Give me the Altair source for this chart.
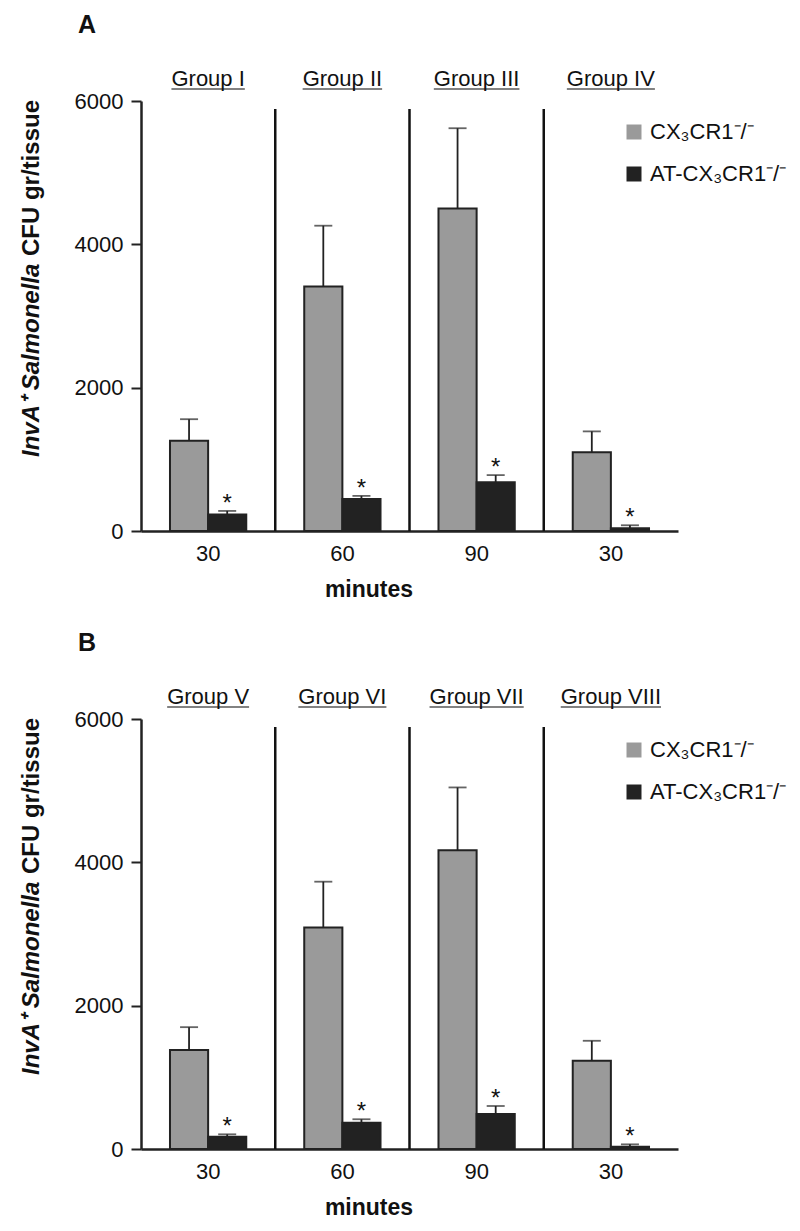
import altair as alt
import pandas as pd

FONT = "Liberation Sans"

# ---- data ----
series = ["CX₃CR1⁻/⁻", "AT-CX₃CR1⁻/⁻"]
bar_colors = ["#9a9a9a", "#222222"]

groups_a = ["Group I", "Group II", "Group III", "Group IV"]
minutes_a = ["30", "60", "90", "30"]
cx_a = [1260, 3410, 4500, 1100]
cx_err_a = [300, 850, 1120, 290]
at_a = [230, 445, 680, 40]
at_err_a = [50, 45, 100, 40]

groups_b = ["Group V", "Group VI", "Group VII", "Group VIII"]
minutes_b = ["30", "60", "90", "30"]
cx_b = [1380, 3090, 4170, 1230]
cx_err_b = [320, 640, 875, 280]
at_b = [170, 365, 490, 30]
at_err_b = [35, 50, 110, 35]

y_ticks = [0, 2000, 4000, 6000]

# approximate glyph widths (em) for underline length of group labels
GLYPH = {"G": .778, "r": .333, "o": .556, "u": .556, "p": .556, " ": .278,
         "I": .278, "V": .667}


def text_w(s, size):
    return sum(GLYPH.get(c, .6) for c in s) * size


W, H = 537, 430
LABEL_SIZE = 22


def panel(letter, groups, minutes, cx, cx_err, at, at_err):
    n = len(groups)
    df = pd.DataFrame({
        "group": groups + groups,
        "series": [series[0]] * n + [series[1]] * n,
        "value": cx + at,
        "err": cx_err + at_err,
    })
    df["top"] = df["value"] + df["err"]

    lab_expr = ("[" + ",".join(f"'{m}'" for m in minutes) + "][indexof(["
                + ",".join(f"'{g}'" for g in groups) + "], datum.value)]")
    xscale = alt.Scale(domain=groups, paddingInner=0, paddingOuter=0)
    yscale = alt.Scale(domain=[0, 6000], nice=False)
    off = alt.XOffset("series:N", scale=alt.Scale(domain=series, paddingInner=0, paddingOuter=0.76))

    xaxis = alt.Axis(title=None, labelExpr=lab_expr, ticks=False, tickSize=0,
                     labelAngle=0, labelFontSize=LABEL_SIZE, labelPadding=12,
                     domainWidth=2.5, domainColor="#222222", labelColor="#111111",
                     labelFont=FONT, grid=False)
    yaxis = alt.Axis(values=y_ticks, format="d", title=None, grid=False,
                     labelFontSize=LABEL_SIZE, tickSize=10, tickWidth=2,
                     tickColor="#222222", domainWidth=2.5, domainColor="#222222",
                     labelPadding=8, labelColor="#111111", labelFont=FONT)

    def xenc(**kw):
        return alt.X("group:N", scale=xscale, sort=groups, axis=xaxis, **kw)

    def yenc(field):
        return alt.Y(field, scale=yscale, axis=yaxis)

    base = alt.Chart(df)

    bars = base.mark_bar(stroke="#222222", strokeWidth=2).encode(
        x=xenc(),
        xOffset=off,
        y=yenc("value:Q"),
        color=alt.Color("series:N", scale=alt.Scale(domain=series, range=bar_colors),
                        legend=alt.Legend(title=None, orient="none", legendX=482, legendY=20,
                                          symbolType="square", symbolSize=225,
                                          symbolStrokeWidth=0, labelFontSize=22,
                                          labelFont=FONT, rowPadding=20, labelOffset=5,
                                          labelColor="#111111", symbolOpacity=1)),
    )

    err = base.mark_rule(color="#222222", strokeWidth=1.8).encode(
        x=xenc(), xOffset=off, y=yenc("value:Q"), y2="top:Q")

    caps = base.mark_tick(orient="horizontal", color="#222222", thickness=1.8, size=18).encode(
        x=xenc(), xOffset=off, y=yenc("top:Q"))

    star = base.transform_filter(alt.datum.series == series[1]).mark_text(
        text="*", fontSize=24, baseline="alphabetic", dy=0, color="#111111", font=FONT
    ).encode(x=xenc(), xOffset=off, y=yenc("top:Q"))

    divs = alt.Chart(pd.DataFrame({"group": groups[:-1]})).mark_rule(
        color="#111111", strokeWidth=2.5
    ).encode(x=xenc(bandPosition=1), y=alt.value(8), y2=alt.value(H))

    lab_df = pd.DataFrame({"group": groups, "uw": [text_w(g, 22) for g in groups]})
    labels = alt.Chart(lab_df).mark_text(
        fontSize=22, baseline="alphabetic", color="#111111", font=FONT
    ).encode(x=xenc(), y=alt.value(-15), text="group:N")
    under = alt.Chart(lab_df).mark_tick(orient="horizontal", thickness=1.5, color="#111111").encode(
        x=xenc(), y=alt.value(-12), size=alt.Size("uw:Q", scale=None, legend=None))

    yt1 = alt.Chart(pd.DataFrame({"t": ["InvA⁺ Salmonella"]})).mark_text(
        angle=270, align="left", baseline="middle", fontSize=24, fontWeight="bold",
        fontStyle="italic", color="#111111", font=FONT
    ).encode(text="t:N", x=alt.value(-109), y=alt.value(356))
    yt2 = alt.Chart(pd.DataFrame({"t": ["CFU gr/tissue"]})).mark_text(
        angle=270, align="right", baseline="middle", fontSize=24, fontWeight="bold",
        color="#111111", font=FONT
    ).encode(text="t:N", x=alt.value(-109), y=alt.value(-1))

    letter_t = alt.Chart(pd.DataFrame({"t": [letter]})).mark_text(
        align="center", baseline="middle", fontSize=25, fontWeight="bold",
        color="#111111", font=FONT
    ).encode(text="t:N", x=alt.value(-54), y=alt.value(-76))

    minutes_t = alt.Chart(pd.DataFrame({"t": ["minutes"]})).mark_text(
        align="center", baseline="middle", fontSize=23, fontWeight="bold",
        color="#111111", font=FONT
    ).encode(text="t:N", x=alt.value(228), y=alt.value(H + 59))

    return alt.layer(divs, bars, err, caps, star, labels, under, yt1, yt2,
                     letter_t, minutes_t).properties(width=W, height=H)


pA = panel("A", groups_a, minutes_a, cx_a, cx_err_a, at_a, at_err_a)
pB = panel("B", groups_b, minutes_b, cx_b, cx_err_b, at_b, at_err_b)

chart = alt.vconcat(pA, pB, spacing=29).resolve_scale(
    x="independent", xOffset="independent", color="independent", y="independent"
).properties(
    padding={"left": 12, "top": 5, "right": 5, "bottom": 5},
    background="white",
).configure_view(stroke=None)

chart.save("out.html", embed_options={"renderer": "svg", "actions": False})
